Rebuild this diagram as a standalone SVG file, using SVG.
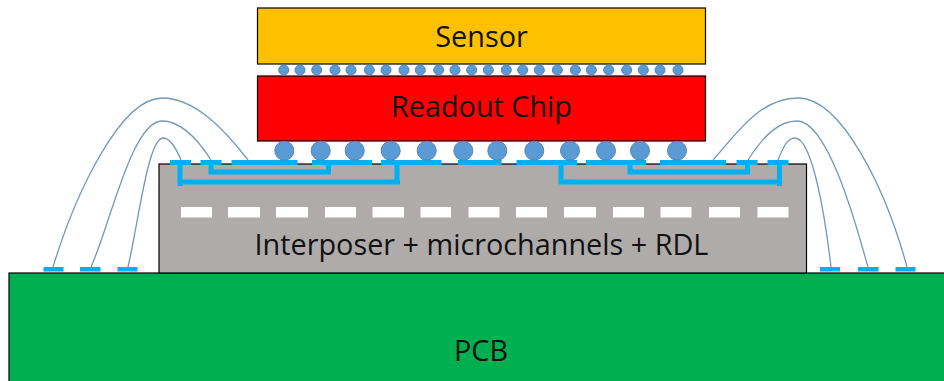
<svg xmlns="http://www.w3.org/2000/svg" width="944" height="381" viewBox="0 0 944 381">
<style>
.box{stroke:#000;stroke-width:1.2}
.wire{fill:none;stroke:#7398B8;stroke-width:1.3}
.pad{fill:#00B0F0}
.trace{fill:none;stroke:#00B0F0;stroke-width:5}
.dash{fill:#fff}
.b1{fill:#5B9BD5;stroke:#5584B0;stroke-width:1}
text{font-family:"Open Sans","Noto Sans",sans-serif;font-size:28.8px;fill:#111;text-anchor:middle}
</style>
<rect width="944" height="381" fill="#fff"/>
<g id="pcb"><rect class="box" x="9" y="273" width="945" height="120" fill="#00B050"/><text x="481" y="361">PCB</text></g>
<g id="interposer"><rect class="box" x="159" y="164" width="647.5" height="109" fill="#AFABAB"/>
<g class="dash"><rect x="181" y="207" width="31" height="10.500"/><rect x="228" y="207" width="32" height="10.500"/><rect x="276" y="207" width="32" height="10.500"/><rect x="325" y="207" width="31" height="10.500"/><rect x="372.500" y="207" width="31.500" height="10.500"/><rect x="420.500" y="207" width="30.500" height="10.500"/><rect x="468.500" y="207" width="31" height="10.500"/><rect x="516" y="207" width="31" height="10.500"/><rect x="564" y="207" width="32" height="10.500"/><rect x="613" y="207" width="31" height="10.500"/><rect x="660.500" y="207" width="31" height="10.500"/><rect x="709" y="207" width="31" height="10.500"/><rect x="757.500" y="207" width="31" height="10.500"/></g>
<text x="481.500" y="255">Interposer + microchannels + RDL</text></g>
<g id="sensor"><rect class="box" x="257.500" y="8" width="448" height="56" fill="#FFC000"/><text x="481.500" y="47">Sensor</text></g>
<g id="readout-chip"><rect class="box" x="257.500" y="76" width="448" height="65" fill="#FF0000"/><text x="481.500" y="117">Readout Chip</text></g>
<g id="connectors">
<path class="wire" d="M53 267C75 195 120 98 162 98C195 98 225 130 248 160"/>
<path class="wire" d="M91 267C110 225 132 121 162 121C178 121 195 135 211 160"/>
<path class="wire" d="M128 267C138 225 148 138 163 138C170 138 176 148 181 160"/>
<path class="wire" d="M907 267C886 190 842 98 798 98C760 98 737 133 713 160"/>
<path class="wire" d="M868 267C860 240 830 121 797 121C779 121 764 135 748 160"/>
<path class="wire" d="M831 267C825 215 812 138 795 138C787 138 783 148 778 160"/>
<path class="trace" d="M180 162V186M178 182H400M397 162V184M211 162V172H331M328.500 162V172M561 162V184M559 182H782M779.500 162V186M630 162V172H750M747.500 162V172"/>
</g>
<g id="pads">
<rect class="pad" x="170" y="160" width="21" height="5"/><rect class="pad" x="200.500" y="160" width="21" height="5"/><rect class="pad" x="231.500" y="160" width="66" height="5"/><rect class="pad" x="312" y="160" width="60" height="5"/><rect class="pad" x="381" y="160" width="60.500" height="5"/><rect class="pad" x="458" y="160" width="43.500" height="5"/><rect class="pad" x="516.500" y="160" width="60.500" height="5"/><rect class="pad" x="586" y="160" width="60" height="5"/><rect class="pad" x="660" y="160" width="66" height="5"/><rect class="pad" x="736.500" y="160" width="21" height="5"/><rect class="pad" x="767.500" y="160" width="21" height="5"/>
<rect class="pad" x="43.500" y="267" width="20" height="4.500"/><rect class="pad" x="80" y="267" width="20.500" height="4.500"/><rect class="pad" x="117.500" y="267" width="20" height="4.500"/><rect class="pad" x="820" y="267" width="20" height="4.500"/><rect class="pad" x="858" y="267" width="20.500" height="4.500"/><rect class="pad" x="895.500" y="267" width="20" height="4.500"/>
</g>
<g id="small-bumps" class="b1">
<circle cx="283.700" cy="70" r="5"/><circle cx="300" cy="70" r="5"/><circle cx="316.700" cy="70" r="5"/><circle cx="335" cy="70" r="5"/><circle cx="351" cy="70" r="5"/><circle cx="369.300" cy="70" r="5"/><circle cx="386" cy="70" r="5"/><circle cx="404" cy="70" r="5"/><circle cx="420.300" cy="70" r="5"/><circle cx="438.700" cy="70" r="5"/><circle cx="455" cy="70" r="5"/><circle cx="471.700" cy="70" r="5"/><circle cx="488.300" cy="70" r="5"/><circle cx="506.300" cy="70" r="5"/><circle cx="522.700" cy="70" r="5"/><circle cx="539.300" cy="70" r="5"/><circle cx="557.300" cy="70" r="5"/><circle cx="575.300" cy="70" r="5"/><circle cx="591.300" cy="70" r="5"/><circle cx="608.700" cy="70" r="5"/><circle cx="626.700" cy="70" r="5"/><circle cx="643.300" cy="70" r="5"/><circle cx="660" cy="70" r="5"/><circle cx="678" cy="70" r="5"/>
</g>
<g id="large-bumps" class="b1">
<circle cx="284.300" cy="150.700" r="9.500"/><circle cx="320.700" cy="150.700" r="9.500"/><circle cx="354.700" cy="150.700" r="9.500"/><circle cx="390.700" cy="150.700" r="9.500"/><circle cx="426.700" cy="150.700" r="9.500"/><circle cx="463.300" cy="150.700" r="9.500"/><circle cx="497.300" cy="150.700" r="9.500"/><circle cx="534.300" cy="150.700" r="9.500"/><circle cx="570" cy="150.700" r="9.500"/><circle cx="606" cy="150.700" r="9.500"/><circle cx="640" cy="150.700" r="9.500"/><circle cx="677" cy="150.700" r="9.500"/>
</g>
</svg>
